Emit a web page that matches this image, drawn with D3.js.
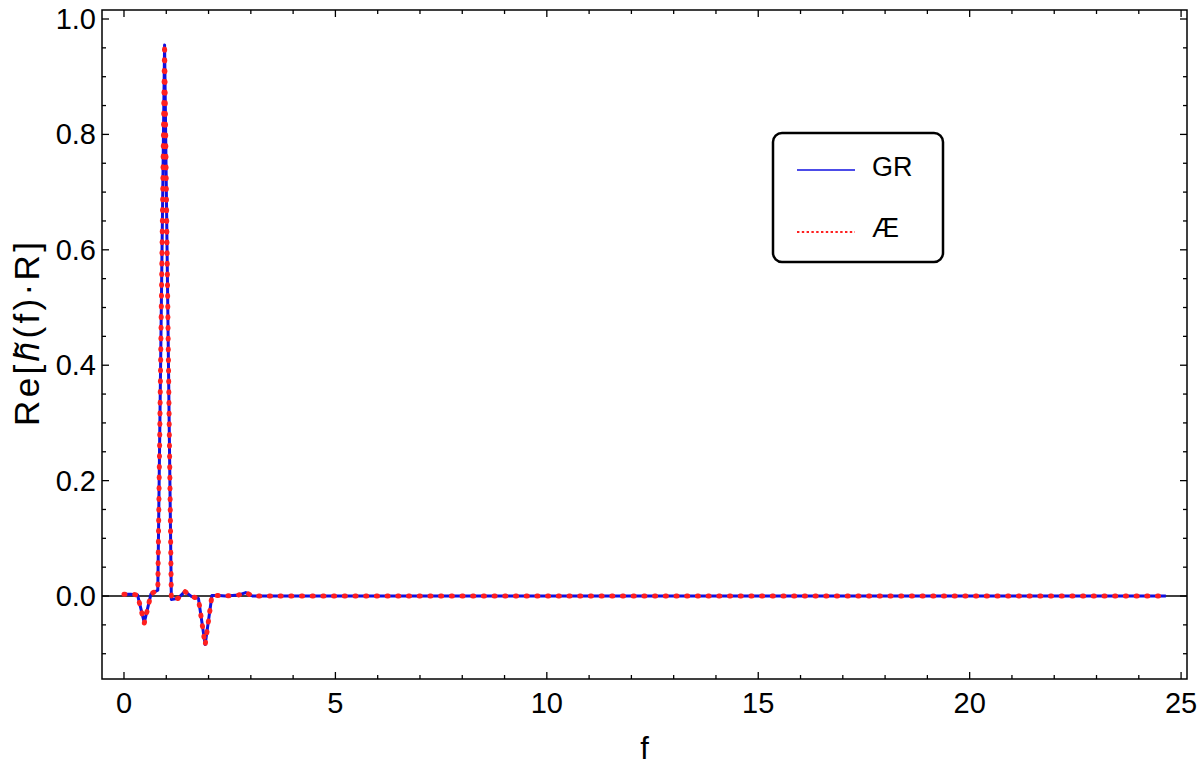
<!DOCTYPE html>
<html>
<head>
<meta charset="utf-8">
<style>
  body { margin: 0; background: #fff; }
  svg text { font-family: "Liberation Sans", Arial, sans-serif; fill: #000; }
</style>
</head>
<body>
<div id="chart"></div>
<script src="https://d3js.org/d3.v7.min.js"></script>
<script>
// frequency samples (flat tail after f = 3.04 is a straight line to the end)
var freqs = [0, 0.16, 0.32, 0.48, 0.64, 0.8, 0.96, 1.12, 1.28, 1.44, 1.6, 1.76, 1.92,
             2.08, 2.24, 2.4, 2.56, 2.72, 2.88, 3.04, 24.64];
var grValues = [0.003, 0.003, 0.002, -0.046, 0.004, 0.010, 0.955, -0.006, -0.004, 0.008,
                -0.001, -0.004, -0.084, 0.001, 0.001, 0.0, 0.001, 0.002, 0.006, 0.0, 0.0];
var aeValues = [0.003, 0.003, 0.002, -0.047, 0.004, 0.010, 0.956, -0.006, -0.004, 0.008,
                -0.001, -0.004, -0.085, 0.001, 0.001, 0.0, 0.001, 0.002, 0.006, 0.0, 0.0];
var xTicks = [0, 5, 10, 15, 20, 25];
var yTicks = [0.0, 0.2, 0.4, 0.6, 0.8, 1.0];
var seriesNames = ["GR", "\u00C6"];

var width = 1200, height = 770;
var plotLeft = 102, plotRight = 1187, plotTop = 10, plotBottom = 679;

var x = d3.scaleLinear().domain([-0.52, 25.14]).range([plotLeft, plotRight]);
var y = d3.scaleLinear().domain([-0.1438, 1.0156]).range([plotBottom, plotTop]);

var svg = d3.select("#chart").append("svg")
    .attr("width", width)
    .attr("height", height);

// zero axis line
svg.append("line")
    .attr("x1", plotLeft).attr("x2", plotRight)
    .attr("y1", y(0)).attr("y2", y(0))
    .attr("stroke", "#000").attr("stroke-width", 1.5);

// ticks (frame style, ticks on all four sides)
var xMinor = d3.range(0, 26, 1);
var yMinor = d3.range(-0.1, 1.01, 0.05);
var tickG = svg.append("g").attr("stroke", "#000").attr("stroke-width", 1.3);

xMinor.forEach(function(v) {
  var len = xTicks.indexOf(v) >= 0 ? 7 : 4;
  tickG.append("line").attr("x1", x(v)).attr("x2", x(v)).attr("y1", plotBottom).attr("y2", plotBottom - len);
  tickG.append("line").attr("x1", x(v)).attr("x2", x(v)).attr("y1", plotTop).attr("y2", plotTop + len);
});
yMinor.forEach(function(v) {
  var major = yTicks.some(function(t) { return Math.abs(t - v) < 1e-6; });
  var len = major ? 7 : 4;
  tickG.append("line").attr("x1", plotLeft).attr("x2", plotLeft + len).attr("y1", y(v)).attr("y2", y(v));
  tickG.append("line").attr("x1", plotRight).attr("x2", plotRight - len).attr("y1", y(v)).attr("y2", y(v));
});

// tick labels
svg.append("g").selectAll("text")
    .data(xTicks)
  .enter().append("text")
    .attr("x", d => x(d))
    .attr("y", 713)
    .attr("text-anchor", "middle")
    .style("font-size", "29px")
    .text(d => d);

svg.append("g").selectAll("text")
    .data(yTicks)
  .enter().append("text")
    .attr("x", 96)
    .attr("y", d => y(d) + 10)
    .attr("text-anchor", "end")
    .style("font-size", "29px")
    .text(d => d.toFixed(1));

// frame
svg.append("rect")
    .attr("x", plotLeft).attr("y", plotTop)
    .attr("width", plotRight - plotLeft).attr("height", plotBottom - plotTop)
    .attr("fill", "none").attr("stroke", "#000").attr("stroke-width", 1.5);

// data lines
var line = d3.line()
    .x((d, i) => x(freqs[i]))
    .y(d => y(d));

svg.append("path")
    .datum(grValues)
    .attr("d", line)
    .attr("fill", "none")
    .attr("stroke", "#1010e0")
    .attr("stroke-width", 3)
    .attr("stroke-linejoin", "round");

svg.append("path")
    .datum(aeValues)
    .attr("d", line)
    .attr("fill", "none")
    .attr("stroke", "#ff2020")
    .attr("stroke-width", 5)
    .attr("stroke-linecap", "round")
    .attr("stroke-dasharray", "1 9.7");

// axis labels
svg.append("text")
    .attr("x", (plotLeft + plotRight) / 2)
    .attr("y", 759)
    .attr("text-anchor", "middle")
    .style("font-size", "31px")
    .text("f");

var yl = svg.append("text")
    .attr("transform", "translate(39,334) rotate(-90)")
    .attr("text-anchor", "middle")
    .attr("textLength", 184)
    .attr("lengthAdjust", "spacing")
    .style("font-size", "35px");
yl.append("tspan").text("Re[");
yl.append("tspan").style("font-style", "italic").text("h\u0303");
yl.append("tspan").text("(f)\u00B7R]");

// legend
var lg = svg.append("g");
lg.append("rect")
    .attr("x", 773).attr("y", 133)
    .attr("width", 170).attr("height", 129)
    .attr("rx", 9).attr("ry", 9)
    .attr("fill", "#fff").attr("stroke", "#000").attr("stroke-width", 2.5);
lg.append("line")
    .attr("x1", 797).attr("x2", 855).attr("y1", 170).attr("y2", 170)
    .attr("stroke", "#1010e0").attr("stroke-width", 1.5);
lg.append("line")
    .attr("x1", 797).attr("x2", 855).attr("y1", 232).attr("y2", 232)
    .attr("stroke", "#ff2020").attr("stroke-width", 2.2)
    .attr("stroke-dasharray", "2.4 2.4");
lg.selectAll("text.lab")
    .data(seriesNames)
  .enter().append("text")
    .attr("class", "lab")
    .attr("x", 872)
    .attr("y", (d, i) => i ? 237 : 176)
    .style("font-size", "27px")
    .text(d => d);
</script>
</body>
</html>
